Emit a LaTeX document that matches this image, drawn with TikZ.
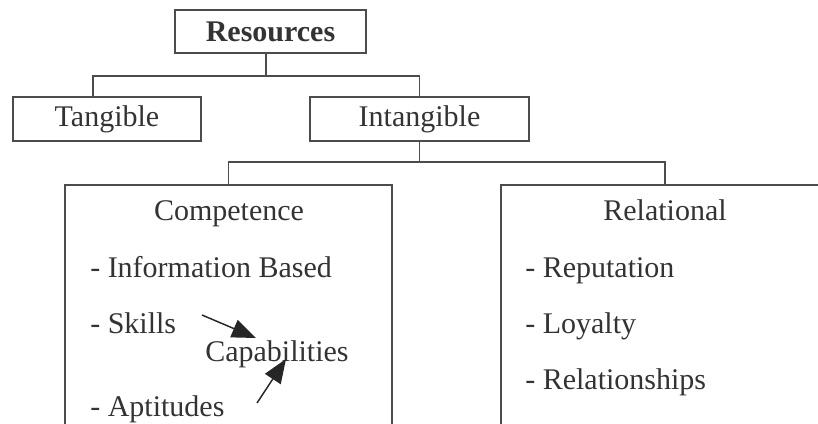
\documentclass[tikz,border=0pt]{standalone}
\usepackage{fontspec}
\setmainfont{Liberation Serif}
\usetikzlibrary{arrows.meta}
\begin{document}
\begin{tikzpicture}[x=0.75pt,y=-0.75pt,
  box/.style={draw=black!70,line width=1.3pt,text=black!80,font=\fontsize{22.5}{27}\selectfont},
  item/.style={anchor=base west,inner sep=0pt,text=black!80,font=\fontsize{22.5}{27}\selectfont},
  link/.style={draw=black!70,line width=1.3pt},
  push/.style={draw=black!85,line width=1.1pt,-{Triangle[length=18pt,width=14pt]}}]
\useasboundingbox (0,0) rectangle (818,424);
\clip (0,0) rectangle (818,424);
% boxes
\node[box,minimum width=143.25pt,minimum height=32.25pt] (res) at (270.5,31.5) {\textbf{Resources}};
\node[box,minimum width=141pt,minimum height=33pt] (tan) at (107,119) {Tangible};
\node[box,minimum width=164.25pt,minimum height=33pt] (intg) at (419.5,119) {Intangible};
\node[box,minimum width=245.25pt,minimum height=225pt] (comp) at (228.5,335) {};
\node[box,minimum width=246pt,minimum height=225pt] (rel) at (665,335) {};
% tree lines
\coordinate (j1) at (266,76);
\coordinate (j2) at (419.5,162);
\draw[link] (j1 |- res.south) -- (j1);
\draw[link] ([xshift=-10.5pt]tan.north) |- (j1) -| (intg.north);
\draw[link] (intg.south) -- (j2);
\draw[link] (comp.north) |- (j2) -| (rel.north);
% competence
\node[item,anchor=base] (comphead) at (229,221) {Competence};
\node[item] (info) at (90,277) {- Information Based};
\node[item] (skills) at (90,333) {- Skills};
\node[item] (capab) at (205,361) {Capabilities};
\node[item] (apt) at (90,416) {- Aptitudes};
\coordinate (s1) at (202,315);
\coordinate (s2) at (256,338);
\coordinate (a1) at (257,403);
\coordinate (a2) at (286,359);
\draw[push] (s1) -- (s2);
\draw[push] (a1) -- (a2);
% relational
\node[item,anchor=base] (relhead) at (665,221) {Relational};
\node[item] (rep) at (525,277) {- Reputation};
\node[item] (loy) at (525,333) {- Loyalty};
\node[item] (ship) at (525,389) {- Relationships};
\end{tikzpicture}
\end{document}
